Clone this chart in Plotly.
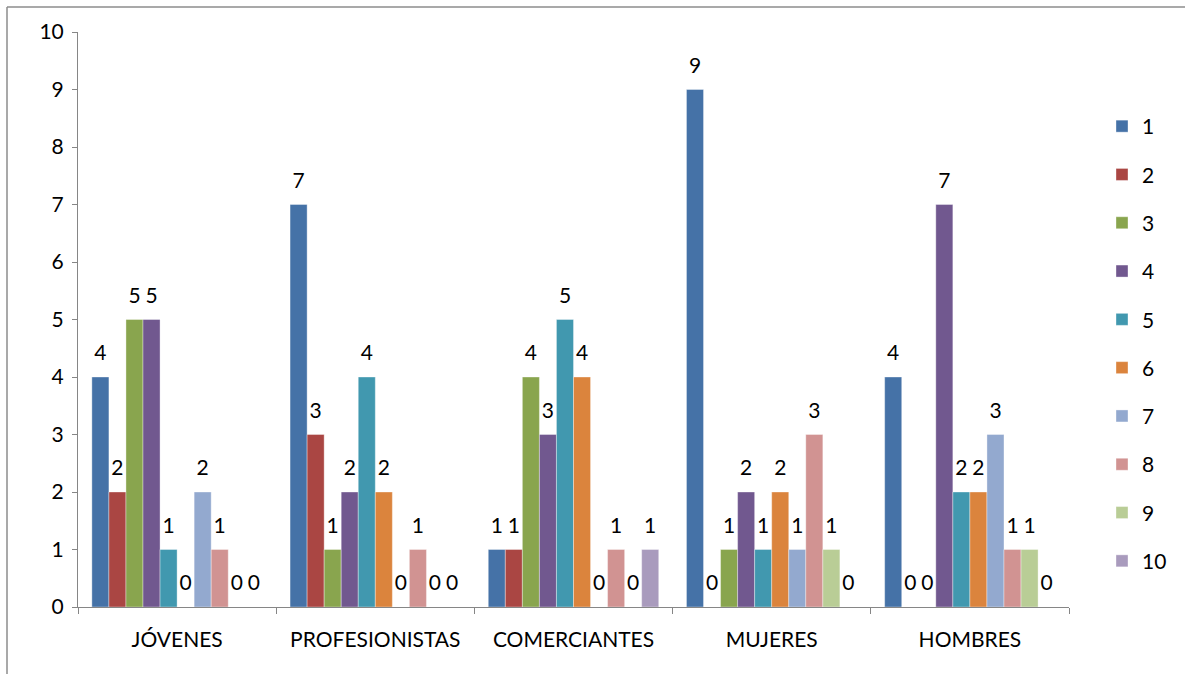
import plotly.graph_objects as go

categories = ["JÓVENES", "PROFESIONISTAS", "COMERCIANTES", "MUJERES", "HOMBRES"]
series_names = ["1", "2", "3", "4", "5", "6", "7", "8", "9", "10"]
s1 = [4, 7, 1, 9, 4]
s2 = [2, 3, 1, 0, 0]
s3 = [5, 1, 4, 1, 0]
s4 = [5, 2, 3, 2, 7]
s5 = [1, 4, 5, 1, 2]
s6 = [0, 2, 4, 2, 2]
s7 = [2, 0, 0, 1, 3]
s8 = [1, 1, 1, 3, 1]
s9 = [0, 0, 0, 1, 1]
s10 = [0, 0, 1, 0, 0]
series_values = [s1, s2, s3, s4, s5, s6, s7, s8, s9, s10]
colors = ["#4572A7", "#AA4643", "#89A54E", "#71588F", "#4198AF",
          "#DB843D", "#93A9CF", "#D19392", "#B9CD96", "#A99BBD"]

FONT = "Lato"
FS = 21
GAP = 0.14
fig = go.Figure()
for i, (name, vals) in enumerate(zip(series_names, series_values)):
    fig.add_trace(go.Bar(
        x=categories, y=vals, name=name, legendgroup=name, offsetgroup=name,
        marker=dict(color=colors[i], line=dict(width=0.6, color="rgba(255,255,255,0.6)")),
        hoverinfo="x+y+name",
    ))
for i, (name, vals) in enumerate(zip(series_names, series_values)):
    fig.add_trace(go.Scatter(
        x=categories, y=vals, name=name, legendgroup=name, offsetgroup=name,
        mode="markers+text", text=[str(v) for v in vals], textposition="top center",
        marker=dict(size=17, opacity=0, color=colors[i]),
        textfont=dict(family=FONT, size=FS, color="black"),
        showlegend=False, hoverinfo="skip", cliponaxis=False,
    ))

W, H = 1185, 674
L, R, T, B = 78, 116, 32, 67
pw, ph = W - L - R, H - T - B

def px2x(px):
    return (px - L) / pw

def py2y(py):
    return (H - B - py) / ph

fig.update_layout(
    width=W, height=H,
    margin=dict(l=L, r=R, t=T, b=B),
    paper_bgcolor="white", plot_bgcolor="white",
    barmode="group", bargap=GAP, bargroupgap=0,
    scattermode="group", scattergap=GAP,
    font=dict(family=FONT, size=FS, color="black"),
    legend=dict(x=px2x(1102), y=py2y(106), xanchor="left", yanchor="top",
                font=dict(family=FONT, size=FS), tracegroupgap=18,
                bgcolor="rgba(0,0,0,0)"),
    xaxis=dict(showline=True, linecolor="#868686", linewidth=1,
               ticks="outside", tickson="boundaries", ticklen=6, tickcolor="#868686",
               showgrid=False, tickfont=dict(family=FONT, size=FS),
               ticklabelstandoff=14),
    yaxis=dict(range=[0, 10], dtick=1, showline=True, linecolor="#868686", linewidth=1,
               ticks="outside", ticklen=5, tickcolor="#868686", showgrid=False,
               zeroline=False, tickfont=dict(family=FONT, size=FS),
               ticklabelstandoff=4),
    shapes=[
        dict(type="line", xref="paper", yref="paper", x0=px2x(7), x1=px2x(1185),
             y0=py2y(7), y1=py2y(7), line=dict(color="#8c8c8c", width=1.5)),
        dict(type="line", xref="paper", yref="paper", x0=px2x(7), x1=px2x(7),
             y0=py2y(7), y1=py2y(674), line=dict(color="#8c8c8c", width=1.5)),
    ],
)

fig.write_html("out.html", config={"displayModeBar": False},
               post_script="document.body.style.margin='0';")
